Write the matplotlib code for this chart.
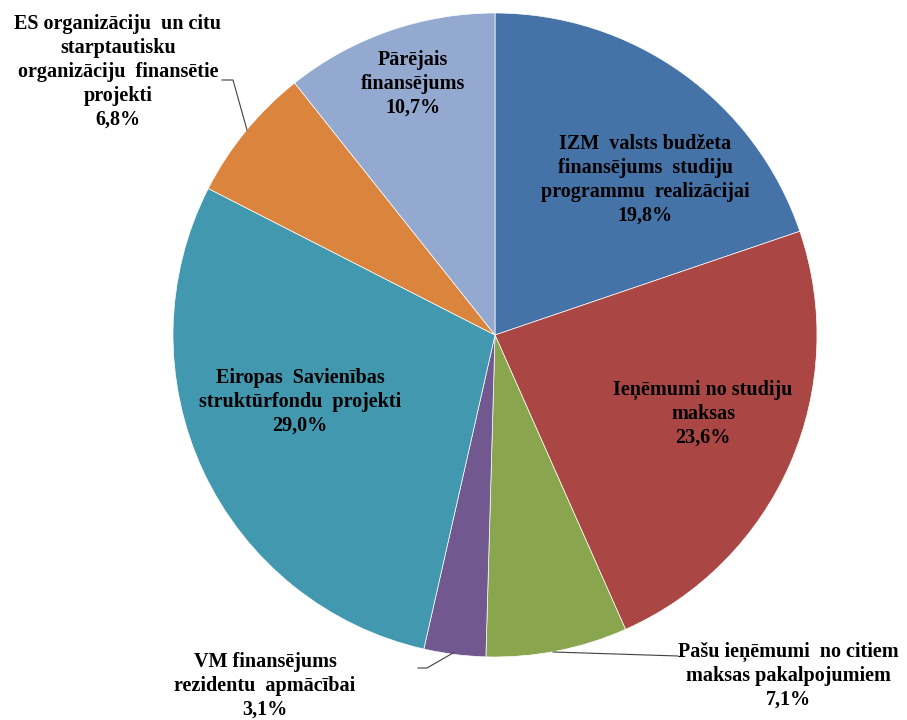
import matplotlib.pyplot as plt

# Finansējuma struktūra
labels = [
    "IZM  valsts budžeta\nfinansējums  studiju\nprogrammu  realizācijai",
    "Ieņēmumi no studiju\nmaksas",
    "Pašu ieņēmumi  no citiem\nmaksas pakalpojumiem",
    "VM finansējums\nrezidentu  apmācībai",
    "Eiropas  Savienības\nstruktūrfondu  projekti",
    "ES organizāciju  un citu\nstarptautisku\norganizāciju  finansētie\nprojekti",
    "Pārējais\nfinansējums",
]
shares = [19.8, 23.6, 7.1, 3.1, 29.0, 6.8, 10.7]
colors = ["#4572A7", "#AA4643", "#89A54E", "#71588F", "#4198AF", "#DB843D", "#93A9CF"]

# teksta novietojums (pikseļos, y no augšas)
text_pos = [(645, 180), (703, 414), (788, 676), (265, 686), (300, 402), (118, 72), (413, 84)]
leaders = {
    2: [(553, 652), (678, 656)],
    3: [(453, 653), (427, 668), (418, 668)],
    5: [(222, 80), (233, 80), (247, 130)],
}

W, H = 907, 720
fig = plt.figure(figsize=[W / 100, H / 100], dpi=100)
ax = fig.add_axes([0, 0, 1, 1])
ax.axis("off")

ax.pie(shares, colors=colors, startangle=90, counterclock=False,
       center=(495, H - 335), radius=322,
       wedgeprops=dict(linewidth=0.5, edgecolor="white"))
ax.set_xlim(0, W)
ax.set_ylim(0, H)
ax.set_aspect("equal")

for i, (lab, val) in enumerate(zip(labels, shares)):
    x, y = text_pos[i]
    txt = lab + "\n" + f"{val:.1f}".replace(".", ",") + "%"
    ax.text(x, H - y, txt, ha="center", va="center", multialignment="center",
            family="Liberation Serif", fontweight="bold", fontsize=14.5,
            linespacing=1.26, color="black")

for pts in leaders.values():
    xs = [p[0] for p in pts]
    ys = [H - p[1] for p in pts]
    ax.plot(xs, ys, color="#404040", lw=0.8)

fig.savefig("out.png", dpi=100)
